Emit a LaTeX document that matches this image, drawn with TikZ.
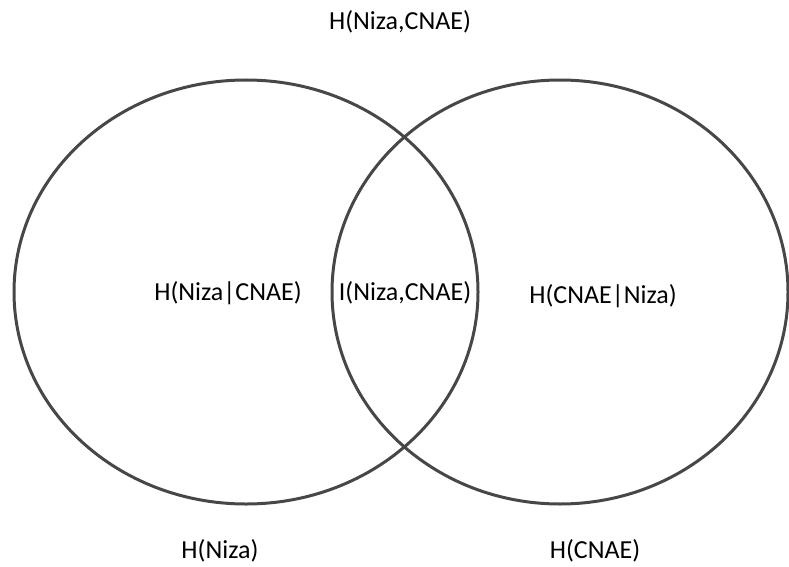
\documentclass[tikz,border=0pt]{standalone}
\usepackage{fontspec}
\setmainfont{Carlito}
\usepackage{tikz}

\begin{document}
\begin{tikzpicture}[x=1pt,y=-1pt]
			\tikzstyle{every node} = [inner sep=0pt,font=\fontsize{26}{30}\selectfont];
			\tikzstyle{set} = [draw=black!72,line width=3pt];
			\useasboundingbox (0,0) rectangle (789,567);
			\draw[set] (246,292) ellipse (232 and 212);
			\draw[set] (560,292) ellipse (228 and 212);
			\node (joint) at (400, 22) {H(Niza,CNAE)};
			\node (condA) at (228, 293) {H(Niza|CNAE)};
			\node (mutual) at (405, 293) {I(Niza,CNAE)};
			\node (condB) at (603, 296) {H(CNAE|Niza)};
			\node (entA) at (220, 551) {H(Niza)};
			\node (entB) at (595, 551) {H(CNAE)};
		\end{tikzpicture}
\end{document}
